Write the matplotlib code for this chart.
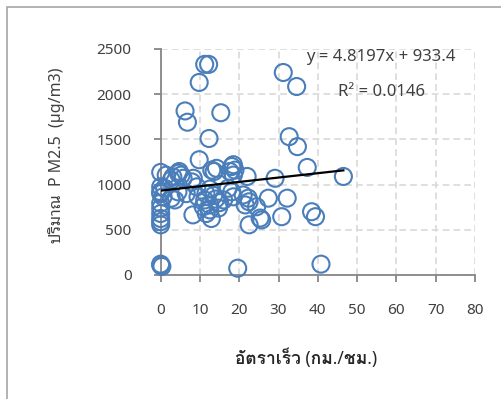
import matplotlib
matplotlib.use("Agg")
import matplotlib.pyplot as plt
from matplotlib.patches import Rectangle

plt.rcParams['font.family'] = ['Noto Sans', 'Noto Sans Thai Looped', 'DejaVu Sans']

# speed (km/h) vs PM2.5 (ug/m3)
speed = [11.2, 12.2, 9.8, 31.2, 34.6,
         6.2, 6.8, 15.3, 12.3, 32.7, 34.8,
         9.8, 37.3, 46.5, 29.1,
         0, 4.5, 4.7, 7.9, 13.0, 13.6, 14.2,
         18.1, 18.5, 17.6, 18.9, 18.5, 22.0,
         1.4, 3.1, 2.7, 5.2, 5.7,
         0, 0, 0, 1.0, 0.6, 4.4, 6.5, 2.7, 3.6,
         0, 0, 0, 0, 0, 0,
         9.5, 11.2, 12.5, 10.8, 8.2, 11.6, 12.9,
         9.2, 8.3, 12.5, 11.5, 13.5, 14.0, 15.0, 16.0, 17.2, 18.1, 18.5,
         21.0, 22.3, 21.5, 22.5,
         14.7, 12.5,
         24.4, 27.4, 32.2, 22.5, 25.7, 25.3, 30.8, 38.4, 39.4,
         0, 0.3, 0, 19.6, 40.8]
pm25 = [2330, 2330, 2130, 2240, 2085,
        1815, 1690, 1795, 1510, 1530, 1420,
        1275, 1190, 1090, 1070,
        1135, 1125, 1145, 1030, 1160, 1145, 1180,
        1200, 1220, 1145, 1160, 1105, 1090,
        1105, 1085, 1050, 1105, 1070,
        975, 920, 900, 960, 865, 920, 900, 850, 830,
        795, 740, 680, 625, 590, 555,
        865, 830, 775, 755, 665, 680, 625,
        975, 1070, 950, 900, 880, 840, 800, 830, 960, 920, 865,
        885, 850, 775, 810,
        740, 720,
        755, 850, 850, 555, 610, 630, 645, 700, 645,
        110, 95, 120, 75, 120]

# linear trendline as printed on the chart
slope = 4.8197
intercept = 933.4
r2 = 0.0146

W, H = 501, 399
fig = plt.figure(figsize=(W / 100, H / 100), dpi=100)
fig.patches.append(Rectangle((7 / W, -0.1), 1.2, 1.1 - 7 / H, transform=fig.transFigure,
                             fill=False, edgecolor='#a6a6a6', linewidth=1.2))

ax = fig.add_axes([160.7 / W, 1 - 275 / H, (475 - 160.7) / W, (275 - 49) / H])
ax.scatter(speed, pm25, s=150, facecolors='none', edgecolors='#4a7ebb',
           linewidths=1.5, zorder=3, clip_on=False)

x_end = max(speed)
ax.plot([0, x_end], [intercept, intercept + slope * x_end], color='black',
        linewidth=1.6, zorder=4)

ax.set_xlim(0, 80)
ax.set_ylim(0, 2500)
ax.set_xticks(range(0, 81, 10))
ax.set_yticks(range(0, 2501, 500))
ax.grid(True, linestyle=(0, (4, 2.5)), color='#d9d9d9', linewidth=1.2, zorder=0)
ax.set_axisbelow(True)

for s in ['top', 'right']:
    ax.spines[s].set_visible(False)
for s in ['left', 'bottom']:
    ax.spines[s].set_color('#868686')
    ax.spines[s].set_linewidth(1.3)
    ax.spines[s].set_zorder(2)

ax.tick_params(axis='both', colors='#868686', length=5, width=1.3, labelcolor='#404040',
               labelsize=11)
ax.tick_params(axis='x', pad=15)
ax.tick_params(axis='y', pad=16)

fig.text(381 / W, 1 - 57 / H, f'y = {slope}x + {intercept}', ha='center', va='center',
         fontsize=12, color='#404040')
fig.text(382 / W, 1 - 92 / H, f'R² = {r2}', ha='center', va='center',
         fontsize=12, color='#404040')

fig.text(306 / W, 1 - 358 / H, 'อัตราเร็ว (กม./ชม.)', ha='center', va='center',
         fontsize=12.5, fontweight='bold', color='#262626',
         family=['Noto Sans', 'Loma', 'Noto Sans Thai Looped'])
fig.text(57 / W, 1 - 155 / H, 'ปริมาณ  P M2.5  (µg/m3)', ha='center', va='center',
         rotation=90, fontsize=11.5, color='#404040')

fig.savefig('out.png', dpi=100)
